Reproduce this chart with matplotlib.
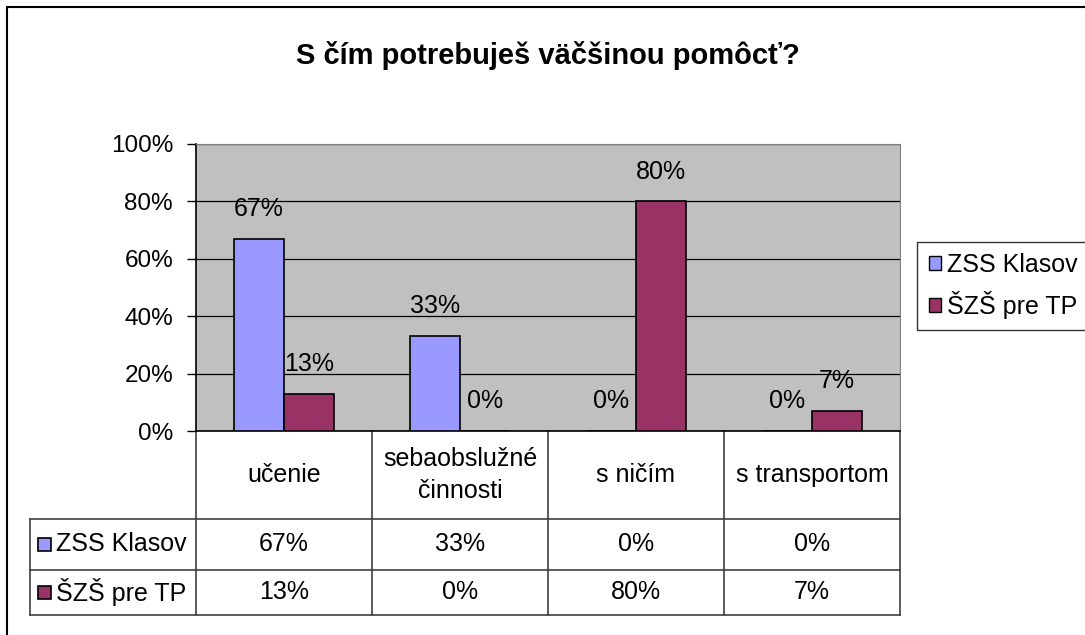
import numpy as np
import matplotlib
matplotlib.use('Agg')
import matplotlib.pyplot as plt
from matplotlib.patches import Patch, Rectangle
from matplotlib.ticker import PercentFormatter

plt.rcParams['font.family'] = ['Liberation Sans', 'DejaVu Sans']

# chart data
title = 'S čím potrebuješ väčšinou pomôcť?'
categories = ['učenie', 'sebaobslužné\nčinnosti', 's ničím', 's transportom']
series_names = ['ZSS Klasov', 'ŠZŠ pre TP']
zss_klasov = [67, 33, 0, 0]
szs_pre_tp = [13, 0, 80, 7]
colors = ['#9999FF', '#993366']

W, H = 1085, 635
FS = 18
fig = plt.figure(figsize=(W / 100, H / 100), dpi=100)

# outer chart frame (runs off right/bottom edge as in the original)
fig.patches.append(Rectangle((7 / W, -0.05), 1.1, 1 - 7 / H + 0.05,
                             transform=fig.transFigure, fill=False,
                             edgecolor='black', linewidth=1.5))

ax = fig.add_axes([196 / W, 1 - 431 / H, 704 / W, 287 / H])
ax.set_facecolor('#C0C0C0')

x = np.arange(len(categories))
bw = 0.285
values = [zss_klasov, szs_pre_tp]
for i, (vals, col) in enumerate(zip(values, colors)):
    pos = x + (i - 0.5) * bw
    ax.bar(pos, np.array(vals) / 100, width=bw, color=col,
           edgecolor='black', linewidth=1.2, zorder=3)
    for p, v in zip(pos, vals):
        ax.annotate(f'{v}%', (p, v / 100), xytext=(0, 21.5),
                    textcoords='offset points', ha='center', va='center',
                    fontsize=FS, zorder=4)

ax.set_xlim(-0.5, len(categories) - 0.5)
ax.set_ylim(0, 1)
ax.set_yticks(np.arange(0, 1.01, 0.2))
ax.yaxis.set_major_formatter(PercentFormatter(1.0, decimals=0))
ax.tick_params(axis='y', direction='out', length=6.5, width=1,
               labelsize=17.5, pad=10)
ax.set_xticks([])
ax.grid(axis='y', color='black', linewidth=0.9, zorder=1)
for s in ['top', 'right']:
    ax.spines[s].set_color('#808080')
for s in ['left', 'bottom']:
    ax.spines[s].set_color('black')
    ax.spines[s].set_linewidth(1.2)

# data table below the plot, x in data units, y in axes units
tr = ax.get_xaxis_transform()
key_left = -1.443
row_y = [0, -0.3066, -0.484, -0.641]
line_kw = dict(transform=tr, clip_on=False, color='#404040', linewidth=1.2)
for b in np.arange(-0.5, len(categories), 1.0):
    ax.plot([b, b], [row_y[0], row_y[3]], **line_kw)
ax.plot([key_left, key_left], [row_y[1], row_y[3]], **line_kw)
for yy in row_y[1:]:
    ax.plot([key_left, len(categories) - 0.5], [yy, yy], **line_kw)

header_c = (row_y[0] + row_y[1]) / 2
row_c = [(row_y[1] + row_y[2]) / 2, (row_y[2] + row_y[3]) / 2]
for xi, cat in zip(x, categories):
    ax.text(xi, header_c, cat, transform=tr, ha='center', va='center',
            fontsize=FS, linespacing=1.45)
for r, vals in enumerate(values):
    for xi, v in zip(x, vals):
        ax.text(xi, row_c[r], f'{v}%', transform=tr, ha='center',
                va='center', fontsize=FS)
    ax.add_patch(Rectangle((-1.40, row_c[r] - 0.024), 0.077, 0.048,
                           transform=tr, clip_on=False,
                           facecolor=colors[r], edgecolor='black',
                           linewidth=1.2))
    ax.text(-1.295, row_c[r], series_names[r], transform=tr, ha='left',
            va='center', fontsize=FS)

fig.text(548 / W, 1 - 56 / H, title, ha='center', va='center',
         fontsize=21, fontweight='bold')

handles = [Patch(facecolor=c, edgecolor='black', label=n)
           for c, n in zip(colors, series_names)]
leg = fig.legend(handles=handles, loc='center',
                 bbox_to_anchor=(1003 / W, 1 - 286 / H), fontsize=FS,
                 frameon=True, fancybox=False, handlelength=0.5,
                 handleheight=0.5, handletextpad=0.22, labelspacing=0.55,
                 borderpad=0.45, borderaxespad=0)
leg.get_frame().set_edgecolor('black')
leg.get_frame().set_linewidth(1.0)

fig.savefig('out.png', dpi=100)
